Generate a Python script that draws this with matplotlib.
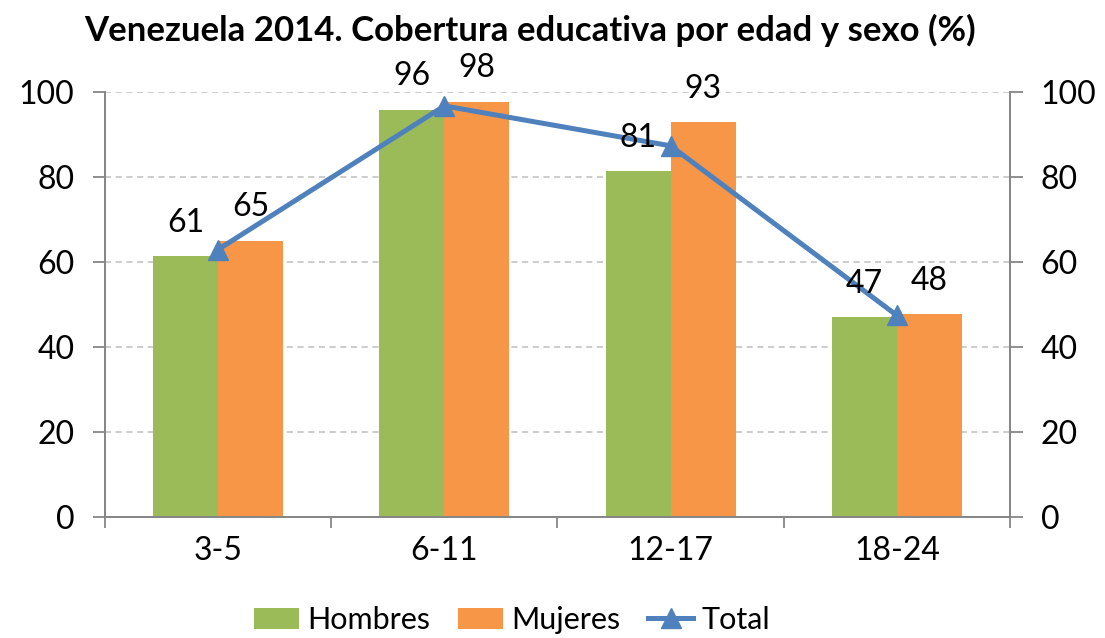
import matplotlib.pyplot as plt
import numpy as np

plt.rcParams['font.family'] = ['Lato', 'DejaVu Sans']

categorias = ['3-5', '6-11', '12-17', '18-24']
hombres = [61.3, 95.8, 81.4, 46.9]
mujeres = [65.0, 97.7, 92.8, 47.7]
total = [62.9, 96.7, 87.3, 47.4]
etiquetas_h = ['61', '96', '81', '47']
etiquetas_m = ['65', '98', '93', '48']

verde = '#9BBB59'
naranja = '#F79646'
azul = '#4F81BD'
gris = '#868686'

fig = plt.figure(figsize=(11.05, 6.38), dpi=100)
ax = fig.add_axes([0.095, 0.19, 0.819, 0.666])
ax2 = ax.twinx()

x = np.arange(len(categorias))
ancho = 0.287

b1 = ax.bar(x - ancho / 2, hombres, ancho, color=verde, label='Hombres', zorder=2)
b2 = ax.bar(x + ancho / 2, mujeres, ancho, color=naranja, label='Mujeres', zorder=2)
l1, = ax.plot(x, total, color=azul, lw=3.6, marker='^', ms=15, label='Total', zorder=3)

for xi, v, t in zip(x - ancho / 2, hombres, etiquetas_h):
    ax.annotate(t, (xi, v), xytext=(0, 24), textcoords='offset points',
                ha='center', va='center', fontsize=23, zorder=4)
for xi, v, t in zip(x + ancho / 2, mujeres, etiquetas_m):
    ax.annotate(t, (xi, v), xytext=(0, 24), textcoords='offset points',
                ha='center', va='center', fontsize=23, zorder=4)

for a in (ax, ax2):
    a.set_ylim(0, 100)
    a.set_yticks(range(0, 101, 20))
    a.set_xlim(-0.5, 3.5)
    a.spines['top'].set_visible(False)
    for s in ('left', 'right', 'bottom'):
        a.spines[s].set_color(gris)
        a.spines[s].set_linewidth(1.3)
    a.tick_params(axis='y', labelsize=23, length=9, width=1.3, color=gris, pad=13)

ax.yaxis.grid(True, ls=(0, (4, 3)), color='#BFBFBF', lw=1.1, zorder=0)
ax.set_axisbelow(True)

ax.set_xticks(np.arange(-0.5, 4, 1))
ax.set_xticklabels([])
ax.set_xticks(x, minor=True)
ax.set_xticklabels(categorias, minor=True, fontsize=23)
ax.tick_params(axis='x', which='major', length=8, width=1.3, color=gris)
ax.tick_params(axis='x', which='minor', length=0, pad=14)

fig.text(0.48, 0.953, 'Venezuela 2014. Cobertura educativa por edad y sexo (%)',
         fontsize=25, fontweight='bold', ha='center', va='center')

fig.legend([b1, b2, l1], ['Hombres', 'Mujeres', 'Total'], loc='center',
           bbox_to_anchor=(0.463, 0.028), ncol=3, frameon=False,
           fontsize=22, handlelength=1.5, handletextpad=0.25, columnspacing=0.9)

fig.savefig('out.png', dpi=100)
